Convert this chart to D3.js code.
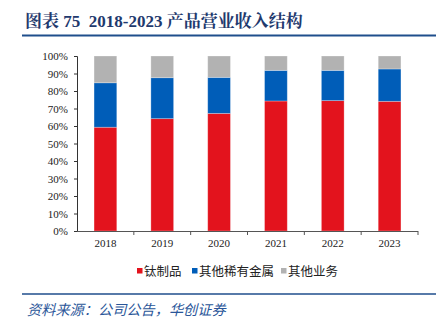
<!DOCTYPE html>
<html><head><meta charset="utf-8">
<script src="https://cdn.jsdelivr.net/npm/d3@7/dist/d3.min.js"></script>
<style>body{margin:0;background:#fff;}svg{display:block;}</style>
</head><body>
<script>
const categories = ["2018","2019","2020","2021","2022","2023"];
const titanium = [59.3, 64.2, 67.2, 74.3, 74.5, 74.1];
const rareMetals = [25.4, 23.4, 20.6, 17.5, 17.3, 18.5];
const otherBiz = [15.3, 12.4, 12.2, 8.2, 8.2, 7.4];
const seriesNames = ["钛制品","其他稀有金属","其他业务"];
const colors = ["#E3131D","#005DB8","#B2B2B2"];
const yTicks = [0,10,20,30,40,50,60,70,80,90,100];

const W = 447, H = 323;
const svg = d3.select("body").append("svg").attr("width", W).attr("height", H);

// title
svg.append("text").attr("x", 25).attr("y", 27)
  .style("white-space", "pre")
  .attr("font-family", "'Liberation Serif','Noto Serif CJK SC','Noto Sans CJK SC',serif")
  .attr("font-weight", "bold").attr("font-size", 17).attr("fill", "#1F3A6E")
  .text("图表 75  2018-2023 产品营业收入结构");
svg.append("line").attr("x1", 22).attr("x2", 436).attr("y1", 35.5).attr("y2", 35.5)
  .attr("stroke", "#1F4E8C").attr("stroke-width", 2);

const mLeft = 77, mRight = 418, mTop = 56, mBottom = 231;
const x = d3.scaleBand().domain(categories).range([mLeft, mRight]).paddingInner(0.6).paddingOuter(0.3);
const xb = d3.scaleBand().domain(categories).range([mLeft, mRight]);
const y = d3.scaleLinear().domain([0, 100]).range([mBottom, mTop]);

const rows = categories.map((c, i) => ({cat: c, s0: titanium[i], s1: rareMetals[i], s2: otherBiz[i]}));
const stack = d3.stack().keys(["s0","s1","s2"])(rows);

svg.append("g").selectAll("g").data(stack).join("g")
  .attr("fill", (d, i) => colors[i])
  .selectAll("rect").data(d => d).join("rect")
  .attr("x", d => x(d.data.cat))
  .attr("width", x.bandwidth())
  .attr("y", d => y(Math.min(d[1], 100)))
  .attr("height", d => y(d[0]) - y(Math.min(d[1], 100)))
  .attr("stroke", "rgba(255,255,255,0.35)").attr("stroke-width", 0.8);

// y axis
const yAxis = svg.append("g").attr("transform", `translate(${mLeft},0)`)
  .call(d3.axisLeft(y).tickValues(yTicks).tickFormat(d => d + "%").tickSize(3).tickPadding(6));
yAxis.select(".domain").attr("stroke", "#333");
yAxis.selectAll(".tick line").attr("stroke", "#333");
yAxis.selectAll("text").attr("font-family", "'Liberation Serif',serif").attr("font-size", 11).attr("fill", "#222");

// x axis
const xAxis = svg.append("g").attr("transform", `translate(0,${mBottom})`)
  .call(d3.axisBottom(x).tickSize(0).tickPadding(8));
xAxis.select(".domain").remove();
xAxis.selectAll("text").attr("font-family", "'Liberation Serif',serif").attr("font-size", 11).attr("fill", "#222");
svg.append("line").attr("x1", mLeft).attr("x2", mRight).attr("y1", mBottom + 0.5).attr("y2", mBottom + 0.5).attr("stroke", "#555");
svg.append("g").selectAll("line").data(categories.slice(1).map(c => xb(c)).concat([mRight]))
  .join("line").attr("x1", d => d).attr("x2", d => d)
  .attr("y1", mBottom).attr("y2", mBottom + 4).attr("stroke", "#555");

// legend
const legendX = [137, 192, 281];
const lg = svg.append("g");
seriesNames.forEach((n, i) => {
  lg.append("rect").attr("x", legendX[i]).attr("y", 268).attr("width", 5.5).attr("height", 5.5).attr("fill", colors[i]);
  lg.append("text").attr("x", legendX[i] + 7).attr("y", 275.5)
    .attr("font-family", "'Noto Sans CJK SC',sans-serif").attr("font-size", 12.5).attr("fill", "#222").text(n);
});

// source
svg.append("line").attr("x1", 22).attr("x2", 436).attr("y1", 294).attr("y2", 294)
  .attr("stroke", "#1F4E8C").attr("stroke-width", 1.5);
svg.append("text").attr("x", 27).attr("y", 315)
  .attr("font-family", "'Noto Sans CJK SC',sans-serif").attr("font-style", "italic")
  .attr("font-size", 14.2).attr("fill", "#2A5699").text("资料来源：公司公告，华创证券");
</script>
</body></html>
